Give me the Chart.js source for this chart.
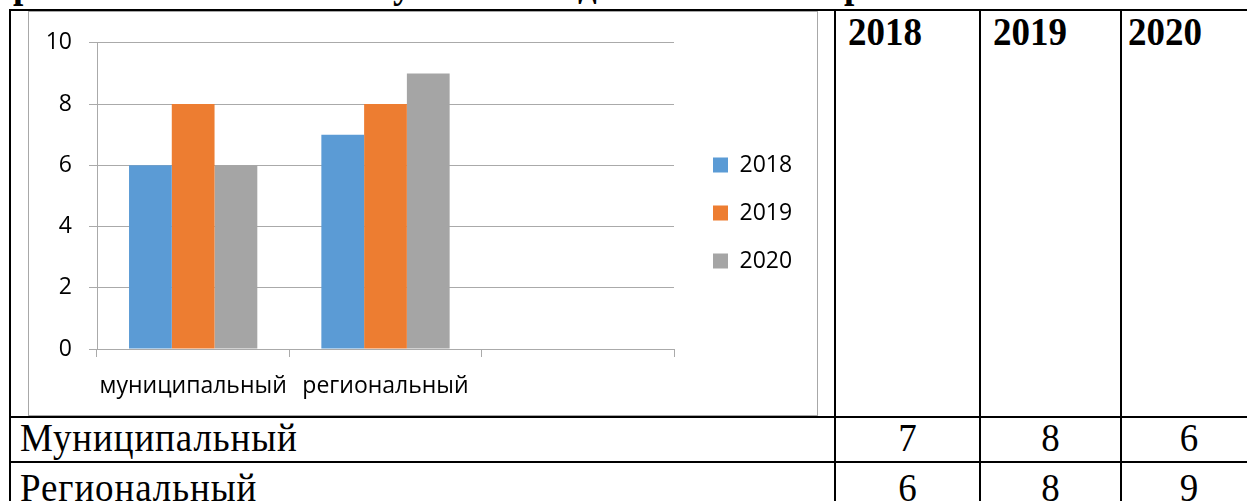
<!DOCTYPE html>
<html><head><meta charset="utf-8">
<script src="https://cdn.jsdelivr.net/npm/chart.js@4.4.1/dist/chart.umd.min.js"></script>
<style>
html,body{margin:0;padding:0;background:#fff;width:1247px;height:501px;overflow:hidden;position:relative;}
.ln{position:absolute;background:#000;}
.t{position:absolute;font-family:"Liberation Serif","Times New Roman",serif;font-size:37px;line-height:37px;color:#000;white-space:nowrap;transform:scaleY(1.08);transform-origin:left top;}
.b{font-weight:bold;}
.c{text-align:center;}
.w{letter-spacing:0.9px;}
#frame{position:absolute;left:28px;top:11px;width:788px;height:403px;border:1px solid #a8a8a8;}
#frame canvas{display:block;}
#frag{position:absolute;left:0;top:0;width:1247px;height:9px;overflow:hidden;}
</style></head><body>
<div id="frag"></div>
<div id="frame"><canvas id="c" width="788" height="403"></canvas></div>
<div id="tbl"></div>
<script>
// ---- data ----
const categories = ['муниципальный', 'региональный', ''];
const seriesNames = ['2018', '2019', '2020'];
const values2018 = [6, 7, null];
const values2019 = [8, 8, null];
const values2020 = [6, 9, null];
const yMin = 0, yMax = 10, yStep = 2;

const tableHeaders = ['2018', '2019', '2020'];
const tableRowNames = ['Муниципальный', 'Региональный'];
const table2018 = [7, 6];
const table2019 = [8, 8];
const table2020 = [6, 9];
const headingFragments = ['р', 'у', 'д', 'р'];

// ---- table (document around the chart) ----
const tbl = document.getElementById('tbl');
function add(cls, style, text) {
  const d = document.createElement('div');
  d.className = cls; d.style.cssText = style;
  if (text !== undefined) d.textContent = text;
  tbl.appendChild(d); return d;
}
// borders
add('ln', 'left:9px;top:9px;width:1238px;height:2px;');
add('ln', 'left:9px;top:9px;width:2px;height:492px;');
add('ln', 'left:834px;top:9px;width:2px;height:492px;');
add('ln', 'left:979px;top:9px;width:2px;height:492px;');
add('ln', 'left:1120px;top:9px;width:2px;height:492px;');
add('ln', 'left:9px;top:416px;width:1238px;height:2px;');
add('ln', 'left:9px;top:461px;width:1238px;height:2px;');

// heading fragments (cut off line above the table)
const frag = document.getElementById('frag');
const fragX = [13, 393, 578, 844];
headingFragments.forEach((ch, i) => {
  const s = document.createElement('div');
  s.className = 't b';
  s.style.cssText = 'left:' + fragX[i] + 'px;top:-36px;';
  s.textContent = ch;
  frag.appendChild(s);
});

// header
const headX = [848, 993, 1128];
tableHeaders.forEach((h, i) => add('t b', 'left:' + headX[i] + 'px;top:12px;', h));
// rows
const colL = [836, 981, 1122], colW = [143, 139, 134];
const rowTop = [418, 468];
const cols = [table2018, table2019, table2020];
tableRowNames.forEach((name, r) => {
  add('t w', 'left:20px;top:' + rowTop[r] + 'px;', name);
  cols.forEach((col, ci) => {
    add('t c', 'left:' + colL[ci] + 'px;width:' + colW[ci] + 'px;top:' + rowTop[r] + 'px;', String(col[r]));
  });
});

// ---- chart ----
const FONT = { family: "'Open Sans', sans-serif", size: 23 };
const GRID = '#aaaaaa';
new Chart(document.getElementById('c'), {
  type: 'bar',
  data: {
    labels: categories,
    datasets: [
      { label: seriesNames[0], data: values2018, backgroundColor: '#5B9BD5', borderWidth: 0 },
      { label: seriesNames[1], data: values2019, backgroundColor: '#ED7D31', borderWidth: 0 },
      { label: seriesNames[2], data: values2020, backgroundColor: '#A5A5A5', borderWidth: 0 }
    ]
  },
  options: {
    responsive: false,
    animation: false,
    layout: { padding: { top: 28, bottom: 0, left: 0, right: 29 } },
    datasets: { bar: { categoryPercentage: 0.667, barPercentage: 1 } },
    plugins: {
      legend: {
        position: 'right',
        maxWidth: 114,
        labels: { font: FONT, color: '#000', boxWidth: 15, boxHeight: 15, padding: 25 }
      },
      tooltip: { enabled: false }
    },
    scales: {
      x: {
        grid: { display: true, drawOnChartArea: false, drawTicks: true, tickLength: 8, color: GRID },
        border: { display: true, color: GRID },
        ticks: { font: FONT, color: '#000', padding: 16, maxRotation: 0, autoSkip: false },
        afterFit: s => { s.height = 66; }
      },
      y: {
        min: yMin, max: yMax,
        ticks: { stepSize: yStep, font: FONT, color: '#000', padding: 17 },
        grid: { color: GRID, tickLength: 8 },
        border: { display: true, color: GRID },
        afterFit: s => { s.width = 68; }
      }
    }
  },
  plugins: [{
    id: 'legendGap',
    afterLayout(chart) {
      const l = chart.legend;
      if (l) { l.left += 14; l.right += 14; l.top -= 14.5; l.bottom -= 14.5; }
    }
  }]
});
</script>
</body></html>
